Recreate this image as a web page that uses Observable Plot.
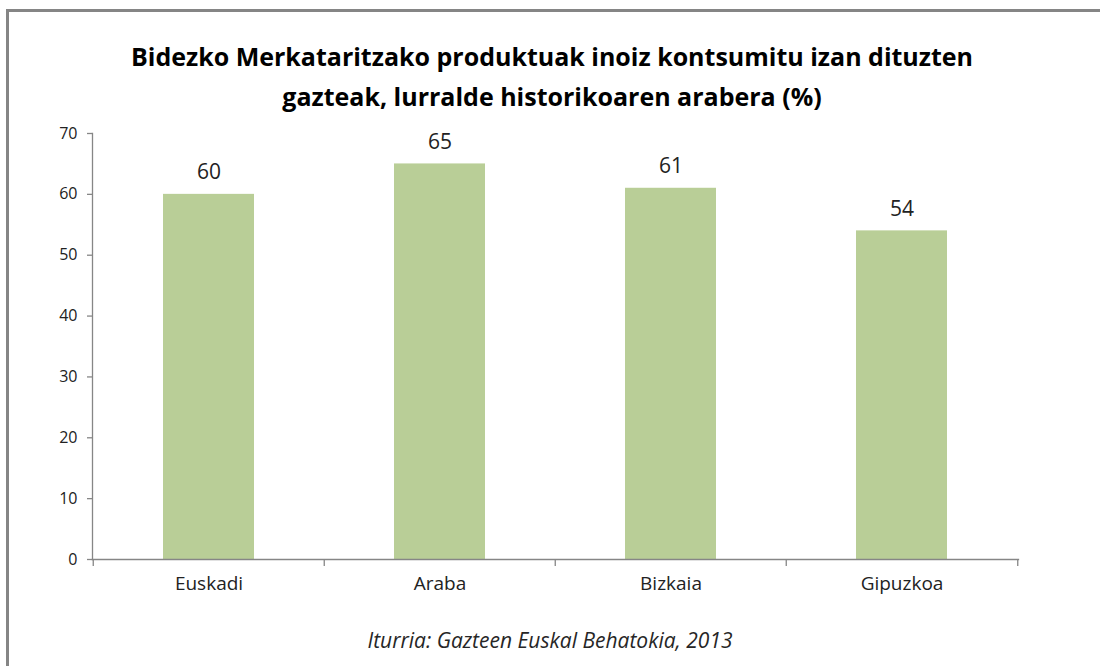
<!DOCTYPE html>
<html>
<head>
<meta charset="utf-8">
<script src="https://cdn.jsdelivr.net/npm/d3@7"></script>
<script src="https://cdn.jsdelivr.net/npm/@observablehq/plot@0.6"></script>
<style>
  html, body { margin: 0; padding: 0; background: #fff; overflow: hidden; }
  #wrap { position: relative; width: 1100px; height: 666px; overflow: hidden; font-family: "Open Sans", sans-serif; }
  #lineTop { position: absolute; left: 6px; top: 9px; width: 1094px; height: 3px; background: #858585; }
  #lineLeft { position: absolute; left: 6px; top: 9px; width: 3px; height: 657px; background: #858585; }
  #title { position: absolute; left: 0; width: 1100px; top: 36px; text-align: center; font-weight: 700; font-size: 25px; line-height: 40px; color: #000; padding-left: 4px; box-sizing: border-box; }
  #caption { position: absolute; left: 0; width: 1100px; top: 626px; text-align: center; font-style: italic; font-size: 21px; color: #262626; }
  #chart { position: absolute; left: 0; top: 0; }
</style>
</head>
<body>
<div id="wrap">
  <div id="lineTop"></div>
  <div id="lineLeft"></div>
  <div id="chart"></div>
  <div id="title">Bidezko Merkataritzako produktuak inoiz kontsumitu izan dituzten<br>gazteak, lurralde historikoaren arabera (%)</div>
  <div id="caption">Iturria: Gazteen Euskal Behatokia, 2013</div>
</div>
<script>
const regions = ["Euskadi", "Araba", "Bizkaia", "Gipuzkoa"];
const values = [60, 65, 61, 54];
const yTicks = [0, 10, 20, 30, 40, 50, 60, 70];

const data = regions.map((r, i) => ({region: r, value: values[i]}));

const W = 1100, H = 666;
const mL = 92, mR = 82, mT = 133, mB = 107;
const step = (W - mL - mR) / regions.length;
const axisColor = "#868686";

const chart = Plot.plot({
  width: W,
  height: H,
  marginLeft: mL,
  marginRight: mR,
  marginTop: mT,
  marginBottom: mB,
  style: {fontFamily: "'Open Sans', sans-serif", fontSize: "16px", background: "transparent", overflow: "visible"},
  x: {domain: regions, padding: 0},
  y: {domain: [0, 70]},
  marks: [
    Plot.barY(data, {x: "region", y: "value", fill: "#B9CE97", insetLeft: 70, insetRight: 70}),
    Plot.text(data, {x: "region", y: "value", text: d => String(d.value), dy: -22, fontSize: 21, fill: "#222"}),
    Plot.frame({anchor: "left", stroke: axisColor, strokeWidth: 1.3}),
    Plot.frame({anchor: "bottom", stroke: axisColor, strokeWidth: 1.3}),
    Plot.ruleX(regions, {x: d => d, dx: -step / 2, y1: 0, y2: 0, insetTop: 7, stroke: axisColor, strokeWidth: 1.3}),
    Plot.ruleX(regions.slice(-1), {x: d => d, dx: step / 2, y1: 0, y2: 0, insetTop: 7, stroke: axisColor, strokeWidth: 1.3}),
    Plot.axisY(yTicks, {ticks: yTicks, tickSize: 5, tickPadding: 10, stroke: axisColor, color: "#222", label: null, strokeWidth: 1.3}),
    Plot.axisX({tickSize: 0, tickPadding: 17, fontSize: 19, color: "#222", label: null})
  ]
});
// enlarge y tick labels robustly
d3.select(chart).selectAll("g").filter(function() {
  const a = this.getAttribute("aria-label") || "";
  return a.includes("y-axis tick label");
}).attr("font-size", 16).selectAll("text").style("font-size", "16px");
document.getElementById("chart").appendChild(chart);
</script>
</body>
</html>
